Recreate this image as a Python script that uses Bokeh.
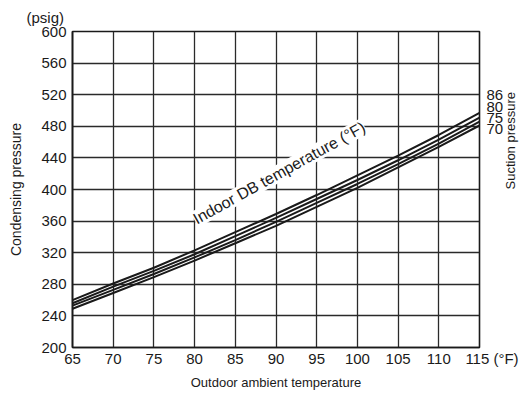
from bokeh.plotting import figure
from bokeh.models import Range1d, FixedTicker, Label, LinearAxis
from bokeh.embed import file_html
from bokeh.resources import INLINE
import math

# ---- data ----
outdoor_temp = [65, 70, 75, 80, 85, 90, 95, 100, 105, 110, 115]
cond_86 = [260, 281, 301, 323, 346, 369, 393, 418, 443, 469, 497]
cond_80 = [256, 277, 297, 318, 341, 364, 388, 412, 437, 463, 491]
cond_75 = [253, 273, 293, 314, 336, 359, 383, 407, 432, 458, 486]
cond_70 = [249, 269, 289, 310, 332, 354, 378, 402, 428, 454, 481]
series = [("86", cond_86), ("80", cond_80), ("75", cond_75), ("70", cond_70)]
x_ticks = [65, 70, 75, 80, 85, 90, 95, 100, 105, 110, 115]
y_ticks = [200, 240, 280, 320, 360, 400, 440, 480, 520, 560, 600]

FONT = "Liberation Sans"
INK = "#1a1a1a"

# label anchor heights for the series names at the right edge (positions only)
name_y = {"86": 519, "80": 505, "75": 491, "70": 477}

p = figure(width=528, height=395, output_backend="svg", toolbar_location=None,
           x_range=Range1d(65, 115), y_range=Range1d(200, 600),
           min_border_left=72, min_border_right=47, min_border_top=31, min_border_bottom=48)
p.background_fill_color = "white"
p.border_fill_color = "white"
p.outline_line_color = INK
p.outline_line_width = 1.6

# title used as the "(psig)" unit label
p.title.text = "(psig)"
p.title.align = "left"
p.title.text_font = FONT
p.title.text_font_size = "15px"
p.title.text_font_style = "normal"
p.title.text_color = INK
try:
    p.title.offset = -46
    p.title.standoff = 12
except Exception:
    pass

right_axis = LinearAxis()
p.add_layout(right_axis, "right")

for ax in (p.xaxis[0], p.yaxis[0], right_axis):
    ax.major_tick_out = 0
    ax.major_tick_in = 0
    ax.minor_tick_out = 0
    ax.minor_tick_in = 0
    ax.axis_line_color = INK
    ax.axis_line_width = 1.6
    ax.major_label_text_font = FONT
    ax.major_label_text_font_size = "15px"
    ax.major_label_text_color = INK
    ax.axis_label_text_font = FONT
    ax.axis_label_text_font_size = "13px"
    ax.axis_label_text_font_style = "normal"
    ax.axis_label_text_color = INK

p.xaxis[0].ticker = FixedTicker(ticks=x_ticks)
p.yaxis[0].ticker = FixedTicker(ticks=y_ticks)
p.xaxis[0].major_label_overrides = {115: "\u2007\u2007\u2007115 (\u00b0F)"}
p.xaxis[0].axis_label = "Outdoor ambient temperature"
p.yaxis[0].axis_label = "Condensing pressure"
p.yaxis[0].axis_label_text_font_size = "14px"
p.xaxis[0].major_label_standoff = 2
p.yaxis[0].major_label_standoff = 6
p.xaxis[0].axis_label_standoff = 5
p.yaxis[0].axis_label_standoff = 14

right_axis.ticker = FixedTicker(ticks=[name_y[n] for n, _ in series])
right_axis.major_label_overrides = {name_y[n]: n for n, _ in series}
right_axis.axis_line_color = None
right_axis.major_label_standoff = 7
right_axis.axis_label = "Suction pressure"
right_axis.axis_label_standoff = 4
try:
    right_axis.axis_label_orientation = math.pi / 2
except Exception:
    pass

p.xgrid.ticker = FixedTicker(ticks=x_ticks)
p.ygrid.ticker = FixedTicker(ticks=y_ticks)
for g in (p.xgrid[0], p.ygrid[0]):
    g.grid_line_color = "#2a2a2a"
    g.grid_line_width = 1.3

p.add_layout(Label(x=90.4, y=421, text="Indoor DB temperature (\u00b0F)", angle=29, angle_units="deg",
                   text_align="center", text_baseline="middle", text_font=FONT,
                   text_font_size="16px", text_color=INK,
                   background_fill_color="white"))

for name, vals in series:
    p.line(outdoor_temp, vals, line_color=INK, line_width=2.0)

open("out.html", "w").write(file_html(p, INLINE))
